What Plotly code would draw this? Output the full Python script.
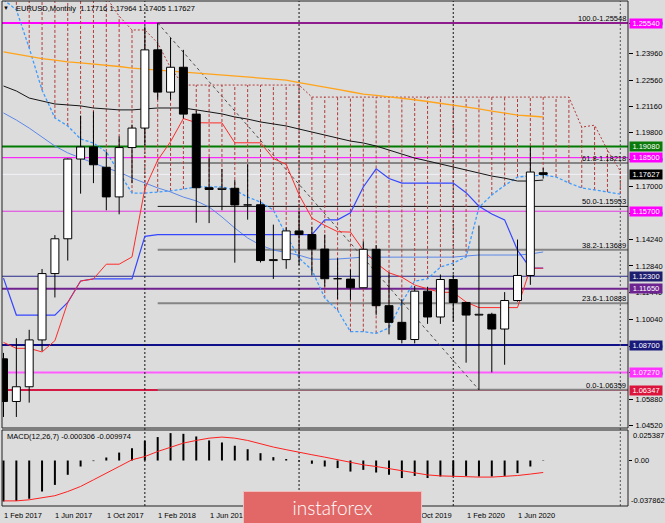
import plotly.graph_objects as go

# ---------------- data ----------------
months = ["Feb 2017", "Mar 2017", "Apr 2017", "May 2017", "Jun 2017", "Jul 2017", "Aug 2017",
          "Sep 2017", "Oct 2017", "Nov 2017", "Dec 2017", "Jan 2018", "Feb 2018", "Mar 2018",
          "Apr 2018", "May 2018", "Jun 2018", "Jul 2018", "Aug 2018", "Sep 2018", "Oct 2018",
          "Nov 2018", "Dec 2018", "Jan 2019", "Feb 2019", "Mar 2019", "Apr 2019", "May 2019",
          "Jun 2019", "Jul 2019", "Aug 2019", "Sep 2019", "Oct 2019", "Nov 2019", "Dec 2019",
          "Jan 2020", "Feb 2020", "Mar 2020", "Apr 2020", "May 2020", "Jun 2020", "Jul 2020",
          "Aug 2020"]
opens = [1.0798, 1.0575, 1.0652, 1.0897, 1.1244, 1.1426, 1.1843, 1.1906, 1.1800, 1.1645, 1.1903,
         1.2005, 1.2414, 1.2193, 1.2323, 1.2078, 1.1693, 1.1684, 1.1690, 1.1603, 1.1604, 1.1312,
         1.1317, 1.1467, 1.1448, 1.1372, 1.1217, 1.1215, 1.1170, 1.1371, 1.1076, 1.0989, 1.0899,
         1.1152, 1.1017, 1.1213, 1.1093, 1.1027, 1.1031, 1.0954, 1.1103, 1.1234, 1.17716]
highs = [1.0829, 1.0906, 1.0950, 1.1268, 1.1445, 1.1846, 1.2070, 1.2092, 1.1880, 1.1961, 1.2023,
         1.2537, 1.2555, 1.2476, 1.2414, 1.2096, 1.1852, 1.1791, 1.1733, 1.1815, 1.1625, 1.1500,
         1.1486, 1.1570, 1.1489, 1.1448, 1.1324, 1.1265, 1.1412, 1.1393, 1.1249, 1.1109, 1.1179,
         1.1175, 1.1239, 1.1239, 1.1095, 1.1495, 1.1039, 1.1147, 1.1422, 1.1908, 1.17964]
lows = [1.0494, 1.0494, 1.0569, 1.0839, 1.1119, 1.1312, 1.1662, 1.1717, 1.1575, 1.1554, 1.1717,
        1.1916, 1.2154, 1.2154, 1.2055, 1.1510, 1.1508, 1.1575, 1.1301, 1.1526, 1.1302, 1.1216,
        1.1269, 1.1289, 1.1234, 1.1176, 1.1110, 1.1107, 1.1168, 1.1028, 1.0926, 1.0879, 1.0879,
        1.0981, 1.0981, 1.0992, 1.0778, 1.0636, 1.0727, 1.0767, 1.1097, 1.1185, 1.17405]
closes = [1.0575, 1.0652, 1.0897, 1.1244, 1.1426, 1.1843, 1.1906, 1.1813, 1.1645, 1.1903, 1.2005,
          1.2414, 1.2193, 1.2323, 1.2078, 1.1693, 1.1684, 1.1690, 1.1603, 1.1604, 1.1312, 1.1317,
          1.1467, 1.1448, 1.1372, 1.1217, 1.1215, 1.1170, 1.1371, 1.1076, 1.0989, 1.0899, 1.1152,
          1.1017, 1.1213, 1.1093, 1.1027, 1.1031, 1.0954, 1.1103, 1.1234, 1.1775, 1.17627]

tenkan = [1.0884, 1.0853, 1.0853, 1.0834, 1.0893, 1.1093, 1.1205, 1.1216, 1.1293, 1.1293, 1.1331,
          1.1688, 1.1837, 1.1934, 1.2055, 1.2033, 1.2032, 1.2032, 1.1928, 1.1928, 1.1928, 1.1846,
          1.1815, 1.1656, 1.1534, 1.1496, 1.1463, 1.1461, 1.1366, 1.1299, 1.1248, 1.1225, 1.1184,
          1.1164, 1.1146, 1.1146, 1.1095, 1.1066, 1.1066, 1.1066, 1.1066, 1.1272, 1.1272]
kijun = [1.1220, 1.1027, 1.1027, 1.1027, 1.1027, 1.1093, 1.1205, 1.1216, 1.1216, 1.1216, 1.1216,
         1.1439, 1.1448, 1.1448, 1.1448, 1.1448, 1.1448, 1.1448, 1.1448, 1.1448, 1.1448, 1.1448,
         1.1448, 1.1448, 1.1448, 1.1525, 1.1525, 1.1562, 1.1697, 1.1792, 1.1741, 1.1717, 1.1717,
         1.1717, 1.1717, 1.1717, 1.1667, 1.1596, 1.1556, 1.1525, 1.1366, 1.1272, 1.1272]
span_a = [1.2677, 1.2623, 1.2424, 1.2204, 1.2058, 1.2016, 1.1948, 1.1927, 1.1880, 1.1775, 1.1665,
          1.1665, 1.1671, 1.1676, 1.1686, 1.1697, 1.1697, 1.1697, 1.1681, 1.1644, 1.1618, 1.1576,
          1.1446, 1.1325, 1.1263, 1.1116, 1.1052, 1.0940, 1.0940, 1.0931, 1.0960, 1.1093, 1.1205,
          1.1216, 1.1278, 1.1299, 1.1331, 1.1590, 1.1655, 1.1705, 1.1749, 1.1754, 1.1760, 1.1749,
          1.1718, 1.1692, 1.1681, 1.1671, 1.1660]
span_b = [1.2900, 1.2900, 1.2900, 1.2900, 1.2900, 1.2900, 1.2850, 1.2780, 1.2690, 1.2590, 1.2518,
          1.2518, 1.2450, 1.2320, 1.2230, 1.2230, 1.2230, 1.2230, 1.2230, 1.2230, 1.2230, 1.2230,
          1.2230, 1.2230, 1.2167, 1.2167, 1.2167, 1.2167, 1.2167, 1.2167, 1.2167, 1.2167, 1.2167,
          1.2167, 1.2167, 1.2167, 1.2167, 1.2167, 1.2167, 1.2167, 1.2167, 1.2167, 1.2167, 1.2167,
          1.2167, 1.2010, 1.2020, 1.1890, 1.1780]
ma_black = [1.2225, 1.2199, 1.2162, 1.2147, 1.2131, 1.2126, 1.2121, 1.2110, 1.2105, 1.2100, 1.2100,
            1.2105, 1.2110, 1.2110, 1.2110, 1.2100, 1.2089, 1.2079, 1.2063, 1.2052, 1.2037, 1.2026,
            1.2016, 1.2000, 1.1984, 1.1969, 1.1953, 1.1937, 1.1927, 1.1911, 1.1890, 1.1869, 1.1848,
            1.1833, 1.1817, 1.1801, 1.1786, 1.1770, 1.1754, 1.1743, 1.1728, 1.1728, 1.1733]
ma_orange = [1.2403, 1.2390, 1.2377, 1.2368, 1.2360, 1.2351, 1.2346, 1.2340, 1.2335, 1.2327, 1.2319,
             1.2314, 1.2309, 1.2304, 1.2298, 1.2293, 1.2288, 1.2283, 1.2278, 1.2272, 1.2267, 1.2262,
             1.2256, 1.2243, 1.2230, 1.2218, 1.2207, 1.2195, 1.2183, 1.2176, 1.2169, 1.2162, 1.2153,
             1.2144, 1.2135, 1.2126, 1.2115, 1.2105, 1.2094, 1.2084, 1.2073, 1.2068, 1.2063]
ma_blue = [1.2084, 1.2047, 1.2005, 1.1958, 1.1911, 1.1875, 1.1848, 1.1822, 1.1796, 1.1775, 1.1744,
           1.1718, 1.1692, 1.1671, 1.1644, 1.1624, 1.1592, 1.1540, 1.1482, 1.1430, 1.1393, 1.1367,
           1.1352, 1.1340, 1.1320, 1.1318, 1.1320, 1.1325, 1.1330, 1.1330, 1.1330, 1.1330, 1.1330,
           1.1330, 1.1330, 1.1330, 1.1336, 1.1341, 1.1341, 1.1341, 1.1341, 1.1346, 1.1357]
macd_hist = [-0.0341, -0.0336, -0.0318, -0.0258, -0.0203, -0.0119, -0.0050, -0.0005, 0.0025, 0.0066,
             0.0103, 0.0164, 0.0195, 0.0228, 0.0222, 0.0200, 0.0167, 0.0150, 0.0123, 0.0094, 0.0061,
             0.0028, 0.0012, -0.0008, -0.0027, -0.0050, -0.0063, -0.0092, -0.0078, -0.0100, -0.0119,
             -0.0146, -0.0128, -0.0146, -0.0133, -0.0133, -0.0128, -0.0133, -0.0133, -0.0128, -0.0105,
             -0.0050, -0.000306]
macd_signal = [-0.0336, -0.0336, -0.0327, -0.0313, -0.0293, -0.0258, -0.0216, -0.0161, -0.0102,
               -0.0050, 0.0006, 0.0033, 0.0075, 0.0108, 0.0145, 0.0167, 0.0186, 0.0195, 0.0186,
               0.0167, 0.0139, 0.0112, 0.0090, 0.0066, 0.0048, 0.0028, 0.0006, -0.0017, -0.0036,
               -0.0050, -0.0069, -0.0086, -0.0105, -0.0120, -0.0128, -0.0133, -0.0138, -0.0138,
               -0.0138, -0.0133, -0.0125, -0.0113, -0.009974]

level_prices = [1.25540, 1.19080, 1.18500, 1.17627, 1.15700, 1.12300, 1.11650, 1.08700, 1.07270, 1.06347]
fib_pcts = [100.0, 61.8, 50.0, 38.2, 23.6, 0.0]
fib_prices = [1.25548, 1.18218, 1.15953, 1.13689, 1.10888, 1.06359]
fib_start_idx = 12
fib_end_idx = 37
separator_idx = [11, 23, 35, 48]
x_label_idx = [0, 4, 8, 12, 16, 20, 24, 28, 32, 36, 40]
x_labels = ["1 Feb 2017", "1 Jun 2017", "1 Oct 2017", "1 Feb 2018", "1 Jun 2018", "1 Oct 2018",
            "1 Feb 2019", "1 Jun 2019", "1 Oct 2019", "1 Feb 2020", "1 Jun 2020"]
y_ticks = [1.2552, 1.2396, 1.2256, 1.2116, 1.1980, 1.1840, 1.1700, 1.1560, 1.1424, 1.1284, 1.1144,
           1.1004, 1.0864, 1.0724, 1.0588, 1.0452]
macd_max, macd_min = 0.025387, -0.037862
title_text = "EURUSD,Monthly\u00a0 1.17716 1.17964 1.17405 1.17627"
macd_text = "MACD(12,26,7) -0.000306 -0.009974"

# ---------------- styles / geometry ----------------
level_colors = ['#FF00FF', '#007A00', '#FF00FF', '#F1F1F8', '#E03CE0', '#2A2A8A', '#70228E',
                '#10108A', '#FF5CFF', '#D41A44']
level_widths = [2, 2, 1, 1, 1, 1, 2, 2, 2, 2]
label_bg = ['#FF00FF', '#0B7A0B', '#FF00FF', '#000000', '#FF00FF', '#1E1E6E', '#6E2490',
            '#1A1A7A', '#FF33FF', '#DC143C']

L_PX, R_PX, T_PX, B_PX = 2, 628, 1, 506
MAIN_BOT, MACD_TOP = 428, 430
STEP, X0 = 12.85, 3.5
P_REF, Y_REF, SCALE = 1.0452, 425, 1912.0
BW = 0.31
FONT = 'Liberation Sans'
FS = 7.5


def px(x):
    return (x - L_PX) / (R_PX - L_PX)


def py(y):
    return (B_PX - y) / (B_PX - T_PX)


x_lo = (L_PX - X0) / STEP
x_hi = (R_PX - X0) / STEP
p_top = P_REF + (Y_REF - T_PX) / SCALE
p_bot = P_REF - (MAIN_BOT - Y_REF) / SCALE

n = len(opens)
idx = list(range(n))

fig = go.Figure()

# Ichimoku cloud hatch
hx, hy = [], []
for i in range(len(span_a)):
    hx += [i, i, None]
    hy += [span_a[i], span_b[i], None]
fig.add_trace(go.Scatter(x=hx, y=hy, mode='lines', line=dict(color='#B23A3A', width=1, dash='3px,2px'),
                         hoverinfo='skip'))
fig.add_trace(go.Scatter(x=list(range(len(span_b))), y=span_b, mode='lines',
                         line=dict(color='#B23A3A', width=1, dash='2px,2px')))
fig.add_trace(go.Scatter(x=list(range(len(span_a))), y=span_a, mode='lines',
                         line=dict(color='#3E9CFF', width=1.3, dash='3px,2px')))
# moving averages
fig.add_trace(go.Scatter(x=idx, y=ma_orange, mode='lines', line=dict(color='#FFA31A', width=1.3)))
fig.add_trace(go.Scatter(x=idx, y=ma_black, mode='lines', line=dict(color='#151515', width=1)))
fig.add_trace(go.Scatter(x=idx, y=ma_blue, mode='lines', line=dict(color='#5C88E8', width=1)))
# Kijun / Tenkan
fig.add_trace(go.Scatter(x=idx, y=kijun, mode='lines', line=dict(color='#3546FF', width=1.2)))
fig.add_trace(go.Scatter(x=idx, y=tenkan, mode='lines', line=dict(color='#FF2A2A', width=1)))

# candles: wicks
wx, wy = [], []
for i in idx:
    top = max(opens[i], closes[i])
    bot = min(opens[i], closes[i])
    wx += [i, i, None, i, i, None]
    wy += [highs[i], top, None, bot, lows[i], None]
fig.add_trace(go.Scatter(x=wx, y=wy, mode='lines', line=dict(color='black', width=1)))


def bodies(bull):
    bx, by = [], []
    for i in idx:
        if (closes[i] >= opens[i]) == bull:
            o, c = opens[i], closes[i]
            bx += [i - BW, i + BW, i + BW, i - BW, i - BW, None]
            by += [o, o, c, c, o, None]
    return bx, by


bx, by = bodies(True)
fig.add_trace(go.Scatter(x=bx, y=by, mode='lines', fill='toself', fillcolor='white',
                         line=dict(color='black', width=1)))
bx, by = bodies(False)
fig.add_trace(go.Scatter(x=bx, y=by, mode='lines', fill='toself', fillcolor='black',
                         line=dict(color='black', width=1)))

# MACD
mx, my = [], []
for i in idx:
    mx += [i, i, None]
    my += [0, macd_hist[i], None]
fig.add_trace(go.Scatter(x=mx, y=my, mode='lines', line=dict(color='black', width=2),
                         xaxis='x2', yaxis='y2'))
fig.add_trace(go.Scatter(x=idx, y=macd_signal, mode='lines', line=dict(color='#FF2020', width=1),
                         xaxis='x2', yaxis='y2'))

shapes = []
for p, c, w in zip(level_prices, level_colors, level_widths):
    shapes.append(dict(type='line', xref='paper', yref='y', x0=0, x1=1, y0=p, y1=p,
                       line=dict(color=c, width=w), layer='below'))
for pct, p in zip(fib_pcts, fib_prices):
    if pct == 50.0:
        col, w = '#111111', 1
    elif pct == 100.0:
        col, w = '#8E1C8E', 2
    else:
        col, w = '#858585', 2
    shapes.append(dict(type='line', xref='x', yref='y', x0=fib_start_idx, x1=x_hi, y0=p, y1=p,
                       line=dict(color=col, width=w), layer='below'))
shapes.append(dict(type='line', xref='x', yref='y', x0=fib_start_idx, x1=fib_end_idx,
                   y0=fib_prices[0], y1=fib_prices[-1],
                   line=dict(color='#4A4A4A', width=1, dash='3px,3px'), layer='below'))
for s in separator_idx:
    col = '#555555' if s == separator_idx[-1] else '#111111'
    shapes.append(dict(type='line', xref='x', yref='paper', x0=s, x1=s, y0=0, y1=1,
                       line=dict(color=col, width=1, dash='2px,2px'), layer='below'))
shapes.append(dict(type='rect', xref='paper', yref='paper', x0=0, x1=1, y0=py(MAIN_BOT), y1=1,
                   line=dict(color='#202020', width=1), layer='above'))
shapes.append(dict(type='rect', xref='paper', yref='paper', x0=0, x1=1, y0=0, y1=py(MACD_TOP),
                   line=dict(color='#202020', width=1), layer='above'))

ann = []
ann.append(dict(x=px(6), y=py(8), xref='paper', yref='paper', text='\u25BC', showarrow=False,
                font=dict(size=6, color='black', family=FONT), xanchor='center', yanchor='middle'))
ann.append(dict(x=px(14), y=py(8), xref='paper', yref='paper', text=title_text, showarrow=False,
                font=dict(size=FS, color='black', family=FONT), xanchor='left', yanchor='middle'))
ann.append(dict(x=px(5), y=py(436), xref='paper', yref='paper', text=macd_text, showarrow=False,
                font=dict(size=FS, color='black', family=FONT), xanchor='left', yanchor='middle'))
for pct, p in zip(fib_pcts, fib_prices):
    ann.append(dict(x=px(627), y=p, xref='paper', yref='y', text=f"{pct:.1f}-{p:.5f}",
                    showarrow=False, font=dict(size=FS, color='black', family=FONT),
                    xanchor='right', yanchor='bottom', yshift=-1, borderpad=0))
for p, bg in zip(level_prices, label_bg):
    ann.append(dict(x=px(629), y=p, xref='paper', yref='y', text=f"{p:.5f}", showarrow=False,
                    font=dict(size=FS, color='white', family=FONT), bgcolor=bg,
                    xanchor='left', yanchor='middle', width=32, height=9, borderpad=0))
ann.append(dict(x=px(631), y=py(435), xref='paper', yref='paper', text=f"{macd_max:.6f}",
                showarrow=False, font=dict(size=FS, color='black', family=FONT),
                xanchor='left', yanchor='middle'))
ann.append(dict(x=px(628.5), y=py(500), xref='paper', yref='paper', text=f"{macd_min:.6f}",
                showarrow=False, font=dict(size=FS, color='black', family=FONT),
                xanchor='left', yanchor='middle'))
for i, t in zip(x_label_idx, x_labels):
    ann.append(dict(x=i, y=py(515), xref='x2', yref='paper', text=t, showarrow=False,
                    font=dict(size=FS, color='black', family=FONT), xanchor='left',
                    yanchor='middle', xshift=-1.5))
ann.append(dict(x=px(332.5), y=py(507.5), xref='paper', yref='paper', text='instaforex',
                showarrow=False, font=dict(size=19, color='white', family='Lato', weight=300),
                bgcolor='#E26868', bordercolor='#F2BDBD', borderwidth=1, borderpad=0,
                width=177, height=31, xanchor='center', yanchor='middle'))

axis_common = dict(showgrid=False, zeroline=False, automargin=False)
fig.update_layout(
    template='none',
    width=665, height=523,
    margin=dict(l=L_PX, r=665 - R_PX, t=T_PX, b=523 - B_PX),
    paper_bgcolor='#DCDCDC', plot_bgcolor='#DCDCDC',
    showlegend=False,
    hovermode=False,
    font=dict(family=FONT, size=FS, color='black'),
    xaxis=dict(domain=[0, 1], range=[x_lo, x_hi], anchor='y', showticklabels=False, ticks='',
               showline=False, **axis_common),
    xaxis2=dict(domain=[0, 1], range=[x_lo, x_hi], anchor='y2', matches='x', showticklabels=False,
                ticks='', showline=False, **axis_common),
    yaxis=dict(domain=[py(MAIN_BOT), 1], range=[p_bot, p_top], side='right', anchor='x',
               tickvals=y_ticks, ticktext=[f"{v:.5f}" for v in y_ticks], ticks='outside',
               ticklen=4, tickwidth=1, tickcolor='black', ticklabelstandoff=1,
               tickfont=dict(size=FS, color='black', family=FONT), showline=False, **axis_common),
    yaxis2=dict(domain=[0, py(MACD_TOP)], range=[macd_min, macd_max], side='right', anchor='x2',
                tickvals=[0], ticktext=['0.00'], ticks='outside', ticklen=3, tickwidth=1,
                tickcolor='black', ticklabelstandoff=1,
                tickfont=dict(size=FS, color='black', family=FONT), showline=False, **axis_common),
    shapes=shapes,
    annotations=ann,
)

fig.write_html("out.html", config={'displayModeBar': False},
               post_script="document.body.style.margin='0px';document.body.style.padding='0px';"
                           "document.body.style.background='#DCDCDC';")
